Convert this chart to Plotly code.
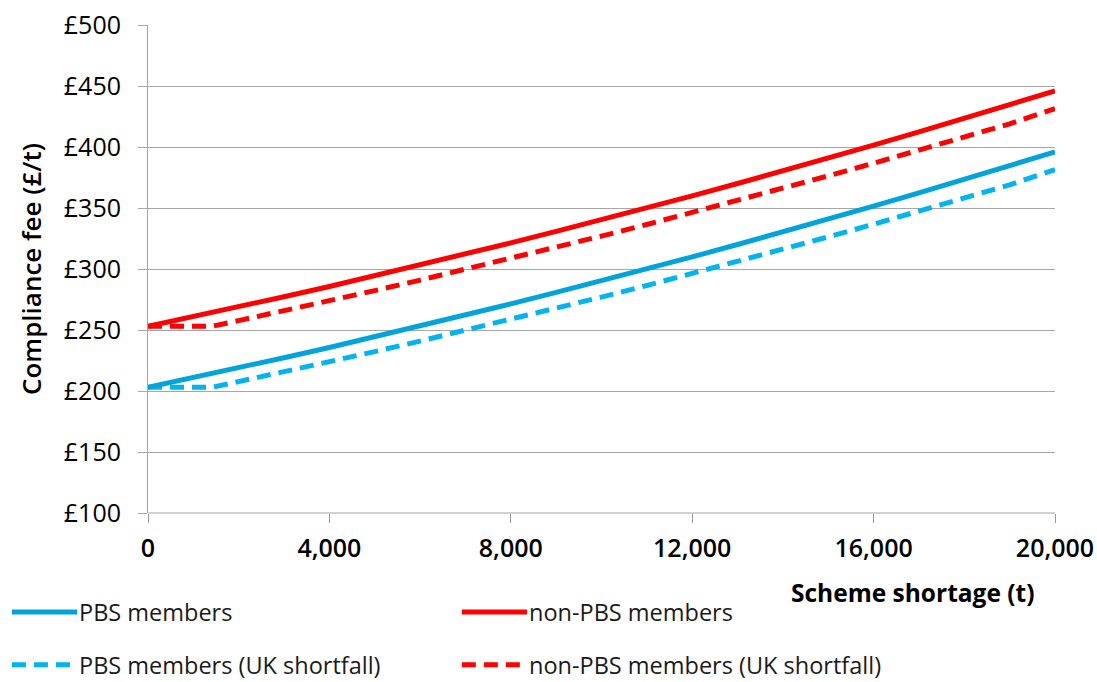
import plotly.graph_objects as go

# Scheme shortage (tonnes) at which fees are quoted
shortage_t = [0, 1000, 2000, 3000, 4000, 5000, 6000, 7000, 8000, 9000, 10000,
              11000, 12000, 13000, 14000, 15000, 16000, 17000, 18000, 19000, 20000]
shortage_uk_t = [0, 1000, 1400, 2000, 3000, 4000, 5000, 6000, 7000, 8000, 9000, 10000,
                 11000, 12000, 13000, 14000, 15000, 16000, 17000, 18000, 19000, 20000]

# Compliance fee (£/t)
pbs_members = [203.0, 210.9, 219.0, 227.3, 235.7, 244.4, 253.2, 262.2, 271.4, 280.8, 290.3,
               300.1, 310.0, 320.1, 330.4, 340.9, 351.5, 362.4, 373.4, 384.6, 396.0]
non_pbs_members = [253.0, 260.9, 269.0, 277.3, 285.7, 294.4, 303.2, 312.2, 321.4, 330.8, 340.3,
                   350.1, 360.0, 370.1, 380.4, 390.9, 401.5, 412.4, 423.4, 434.6, 446.0]
pbs_members_uk = [203.0, 203.0, 203.0, 207.7, 215.7, 223.9, 232.3, 240.9, 249.7, 258.6, 267.7,
                  277.0, 286.5, 296.2, 306.0, 316.1, 326.3, 336.7, 347.3, 358.0, 369.0, 381.5]
non_pbs_members_uk = [253.0, 253.0, 253.0, 257.7, 265.7, 273.9, 282.3, 290.9, 299.7, 308.6, 317.7,
                      327.0, 336.5, 346.2, 356.0, 366.1, 376.3, 386.7, 397.3, 408.0, 419.0, 431.5]

x_ticks = [0, 4000, 8000, 12000, 16000, 20000]
x_tick_text = ["0", "4,000", "8,000", "12,000", "16,000", "20,000"]
y_ticks = [100, 150, 200, 250, 300, 350, 400, 450, 500]
y_tick_text = ["£100", "£150", "£200", "£250", "£300", "£350", "£400", "£450", "£500"]

BLUE = "#00A3DA"
LIGHT_BLUE = "#00B4F0"
RED = "#FF0000"
DASH = "14px,8px"
FONT = "Open Sans"

series = [
    ("PBS members", shortage_t, pbs_members, BLUE, "solid"),
    ("non-PBS members", shortage_t, non_pbs_members, RED, "solid"),
    ("PBS members (UK shortfall)", shortage_uk_t, pbs_members_uk, LIGHT_BLUE, DASH),
    ("non-PBS members (UK shortfall)", shortage_uk_t, non_pbs_members_uk, RED, DASH),
]

fig = go.Figure()
# draw dashed series first so the solid lines sit on top
for name, xs, ys, color, dash in [series[2], series[3], series[0], series[1]]:
    fig.add_trace(go.Scatter(x=xs, y=ys, mode="lines", name=name,
                             line=dict(color=color, width=5, dash=dash),
                             showlegend=False, cliponaxis=False))

# Two-column legend under the chart
legend_pos = [(-0.150, -0.203), (0.346, -0.203), (-0.150, -0.311), (0.346, -0.311)]
for (name, _, _, color, dash), (lx, ly) in zip(series, legend_pos):
    fig.add_shape(type="line", xref="paper", yref="paper",
                  x0=lx, x1=lx + 0.072, y0=ly, y1=ly,
                  line=dict(color=color, width=5, dash=dash))
    fig.add_annotation(xref="paper", yref="paper", x=lx + 0.072, y=ly,
                       text=name, showarrow=False, xanchor="left", yanchor="middle",
                       font=dict(family=FONT, size=23.5, color="#1a1a1a"))

fig.add_annotation(xref="paper", yref="paper", x=0.843, y=-0.162,
                   text="Scheme shortage (t)", showarrow=False,
                   xanchor="center", yanchor="middle",
                   font=dict(family=FONT, size=24.5, color="black", weight="bold"))

fig.update_layout(
    width=1097, height=682,
    margin=dict(l=148, r=42, t=25, b=169, autoexpand=False),
    paper_bgcolor="white", plot_bgcolor="white",
    font=dict(family=FONT, color="black"),
    showlegend=False,
)
fig.update_xaxes(range=[0, 20000], tickvals=x_ticks, ticktext=x_tick_text,
                 showgrid=False, showline=False, zeroline=False, automargin=False,
                 ticks="outside", ticklen=9, tickwidth=1, tickcolor="#999999",
                 ticklabelstandoff=4,
                 tickfont=dict(family=FONT, size=25, color="black", weight=600))
fig.update_yaxes(range=[100, 500], tickvals=y_ticks, ticktext=y_tick_text,
                 showgrid=True, gridcolor="#a6a6a6", gridwidth=1, automargin=False,
                 showline=True, linecolor="#a6a6a6", linewidth=1, zeroline=False,
                 ticks="outside", ticklen=9, tickwidth=1, tickcolor="#a6a6a6",
                 ticklabelstandoff=12,
                 tickfont=dict(family=FONT, size=25, color="black"),
                 title=dict(text="Compliance fee (£/t)", standoff=14,
                            font=dict(family=FONT, size=26, color="black", weight=600)))

# bottom axis baseline drawn as the £100 gridline plus x tick marks
fig.add_shape(type="line", xref="paper", yref="paper", x0=0, x1=1, y0=0, y1=0,
              line=dict(color="#a6a6a6", width=1), layer="below")

fig.write_html("out.html")
